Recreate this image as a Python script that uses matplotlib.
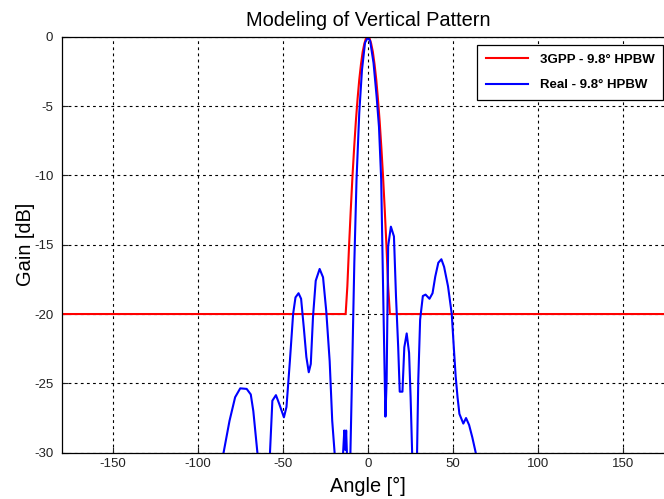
import numpy as np
import matplotlib
matplotlib.use('Agg')
import matplotlib.pyplot as plt

plt.rcParams['font.family'] = ['Liberation Sans', 'DejaVu Sans']
plt.rcParams['axes.unicode_minus'] = False

# 3GPP model
gpp_angle = [-180, -13, -12, -11, -10, -9, -8, -7, -6, -5, -4, -3, -2, -1, 0,
             1, 2, 3, 4, 5, 6, 7, 8, 9, 10, 11, 12, 13, 180]
gpp_gain = [-20, -20, -18.0, -15.1, -12.5, -10.1, -8.0, -6.1, -4.5, -3.1, -2.0, -1.1, -0.5, -0.1, 0,
            -0.1, -0.5, -1.1, -2.0, -3.1, -4.5, -6.1, -8.0, -10.1, -12.5, -15.1, -18.0, -20, -20]

real_angle = [-88, -84.8, -81.3, -78.0, -75.0, -71.2, -68.8, -67.3, -64.9, -62,
              -59, -57.5, -56.1, -54.0, -52.0, -49.3, -47.8, -45.8, -43.9, -42.5,
              -40.7, -39.2, -37.6, -36.1, -34.7, -33.5, -32.2, -30.6, -28.3, -26.3,
              -24.4, -22.4, -20.9, -19.5, -17, -14.5, -13.8, -13.2, -12.7, -12.0,
              -11.0, -10.2, -9.1, -7.9, -6.6, -5.0, -3.4, -1.6, 0, 1.4,
              3.4, 5.2, 6.6, 7.9, 9.1, 10.0, 10.4, 11.1, 12.0, 13.6,
              15.4, 16.6, 17.9, 18.8, 20.4, 21.5, 22.9, 24.3, 25.2, 26.1,
              27.5, 29.0, 29.7, 30.8, 32.4, 34.0, 36.3, 38.1, 39.7, 41.5,
              43.3, 44.9, 47.2, 49.4, 50.6, 51.7, 52.8, 53.9, 56.2, 57.8,
              59.6, 61.5, 63.5, 66]
real_gain = [-32, -30, -27.7, -26.0, -25.36, -25.4, -25.8, -27.0, -30, -33,
             -33, -30, -26.25, -25.85, -26.5, -27.45, -26.7, -23.4, -20, -18.8,
             -18.5, -18.9, -21, -23.1, -24.2, -23.6, -20.2, -17.6, -16.75, -17.35,
             -19.8, -23.4, -27.7, -30, -33, -30, -28.4, -29.8, -28.4, -31,
             -32, -30, -23.6, -16.3, -10.3, -5.5, -2.4, -0.43, -0.07, -0.3,
             -1.9, -4.3, -6.5, -10.3, -18.7, -24.8, -27.4, -24.8, -15.1, -13.7,
             -14.4, -18.7, -22.4, -25.6, -25.6, -22.4, -21.4, -22.8, -26, -30,
             -33, -30, -24.8, -20.4, -18.7, -18.6, -18.9, -18.5, -17.3, -16.3,
             -16.05, -16.6, -18.0, -20, -22.4, -24.5, -26, -27.2, -27.9, -27.5,
             -28.0, -28.9, -30, -32]

fig = plt.figure(figsize=(6.64, 4.99), dpi=100)
ax = fig.add_axes([0.0929, 0.0928, 1.0148 - 0.0929, 0.9265 - 0.0928])

ax.plot(gpp_angle, gpp_gain, color='#ff0000', linewidth=1.5, label='3GPP - 9.8° HPBW')
ax.plot(real_angle, real_gain, color='#0000ff', linewidth=1.5, label='Real - 9.8° HPBW')

ax.set_xlim(-180, 180)
ax.set_ylim(-30, 0)
ax.set_xticks([-150, -100, -50, 0, 50, 100, 150])
ax.set_yticks([-30, -25, -20, -15, -10, -5, 0])
ax.tick_params(direction='in', length=4, labelsize=9.5, colors='#222222', width=0.8)
ax.tick_params(axis='y', pad=6)
ax.grid(True, color='black', linestyle=(0, (2.5, 3)), linewidth=0.8)
for s in ax.spines.values():
    s.set_linewidth(0.9)

ax.set_title('Modeling of Vertical Pattern', fontsize=14.4, pad=8)
ax.set_xlabel('Angle [°]', fontsize=14.4, labelpad=5)
ax.set_ylabel('Gain [dB]', fontsize=14.4, labelpad=-0.5)

leg = ax.legend(loc='upper right', bbox_to_anchor=(0.9985, 0.9098),
                bbox_transform=fig.transFigure, borderaxespad=0,
                fancybox=False, framealpha=1, edgecolor='black',
                prop={'size': 9.5, 'weight': 'bold'}, handlelength=3.2,
                handletextpad=0.9, borderpad=0.65, labelspacing=1.0)
leg.get_frame().set_linewidth(0.9)

fig.savefig('out.png', dpi=100)
